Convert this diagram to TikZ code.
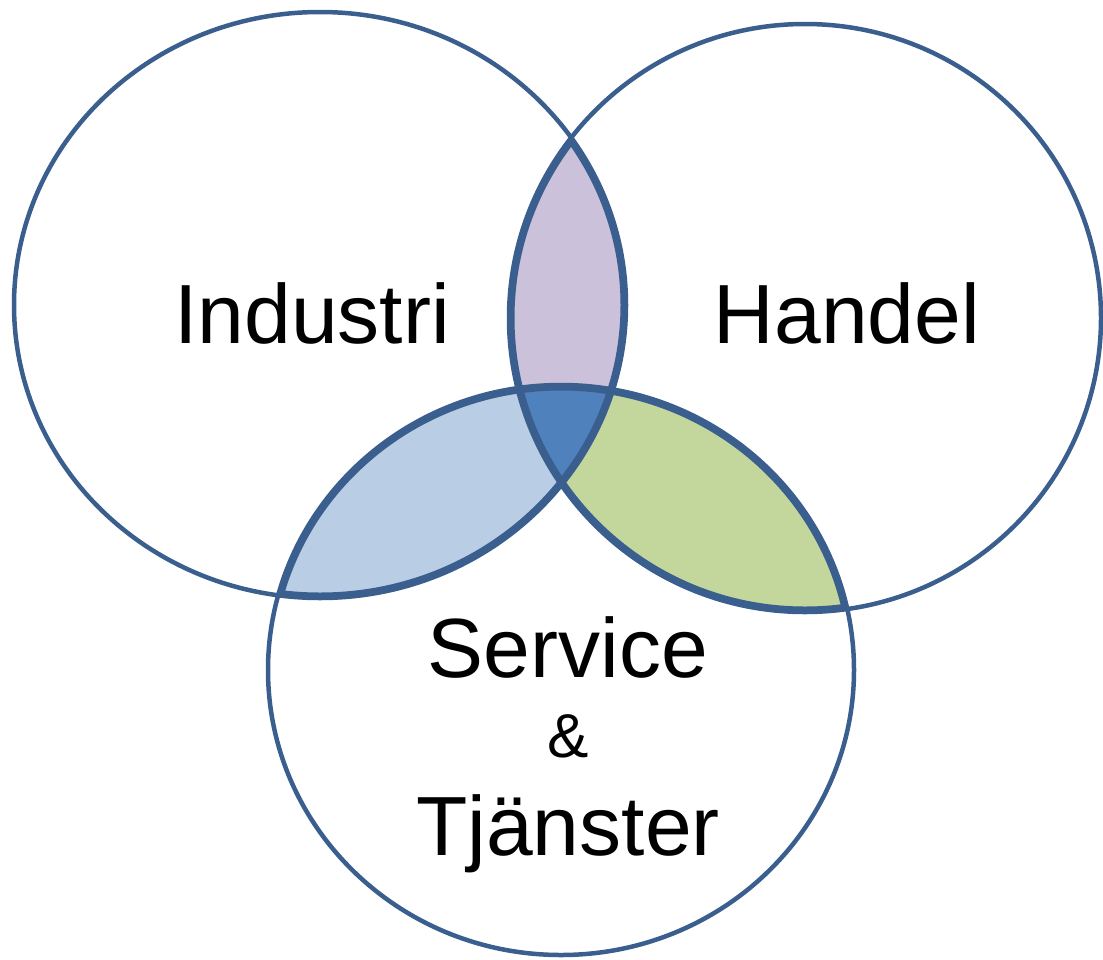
\documentclass[tikz,border=0pt]{standalone}
\usepackage{fontspec}
\setmainfont{Liberation Sans}
\definecolor{edge}{HTML}{3A5F8F}
\definecolor{lpurple}{HTML}{CCC1DA}
\definecolor{lblue}{HTML}{B9CDE5}
\definecolor{lgreen}{HTML}{C3D69B}
\definecolor{cblue}{HTML}{4F81BD}
\tikzset{
  ring/.style={draw=edge, line width=4.5pt},
  lensline/.style={draw=edge, line width=11pt},
  lbl/.style={anchor=base, inner sep=0pt, font=\fontsize{84}{100}\selectfont},
  amp/.style={anchor=base, inner sep=0pt, font=\fontsize{62}{70}\selectfont}
}
\def\CL{(320,305) ellipse [x radius=306pt, y radius=293pt]}
\def\CR{(805,318) ellipse [x radius=296pt, y radius=294pt]}
\def\CB{(561,670) ellipse [x radius=293pt, y radius=285pt]}
\begin{document}
\begin{tikzpicture}[x=1pt,y=-1pt]
\useasboundingbox (0,0) rectangle (1103,959);
% purple lens: left & right
\begin{scope}
  \clip \CL; \clip \CR;
  \fill[lpurple] \CR;
  \draw[lensline] \CL; \draw[lensline] \CR;
\end{scope}
% light blue lens: left & bottom
\begin{scope}
  \clip \CL; \clip \CB;
  \fill[lblue] \CB;
  \draw[lensline] \CL; \draw[lensline] \CB;
\end{scope}
% green lens: right & bottom
\begin{scope}
  \clip \CR; \clip \CB;
  \fill[lgreen] \CB;
  \draw[lensline] \CR; \draw[lensline] \CB;
\end{scope}
% centre
\begin{scope}
  \clip \CL; \clip \CR; \clip \CB;
  \fill[cblue] \CB;
  \draw[lensline] \CL; \draw[lensline] \CR; \draw[lensline] \CB;
\end{scope}
% circles
\draw[ring] \CL;
\draw[ring] \CR;
\draw[ring] \CB;
% labels
\node[lbl] (ind) at (312,343) {Industri};
\node[lbl] (han) at (847,343) {Handel};
\node[lbl] (ser) at (568,677) {Service};
\node[amp] (amp) at (568,757) {\&};
\node[lbl] (tja) at (568,855) {Tjänster};
\end{tikzpicture}
\end{document}
